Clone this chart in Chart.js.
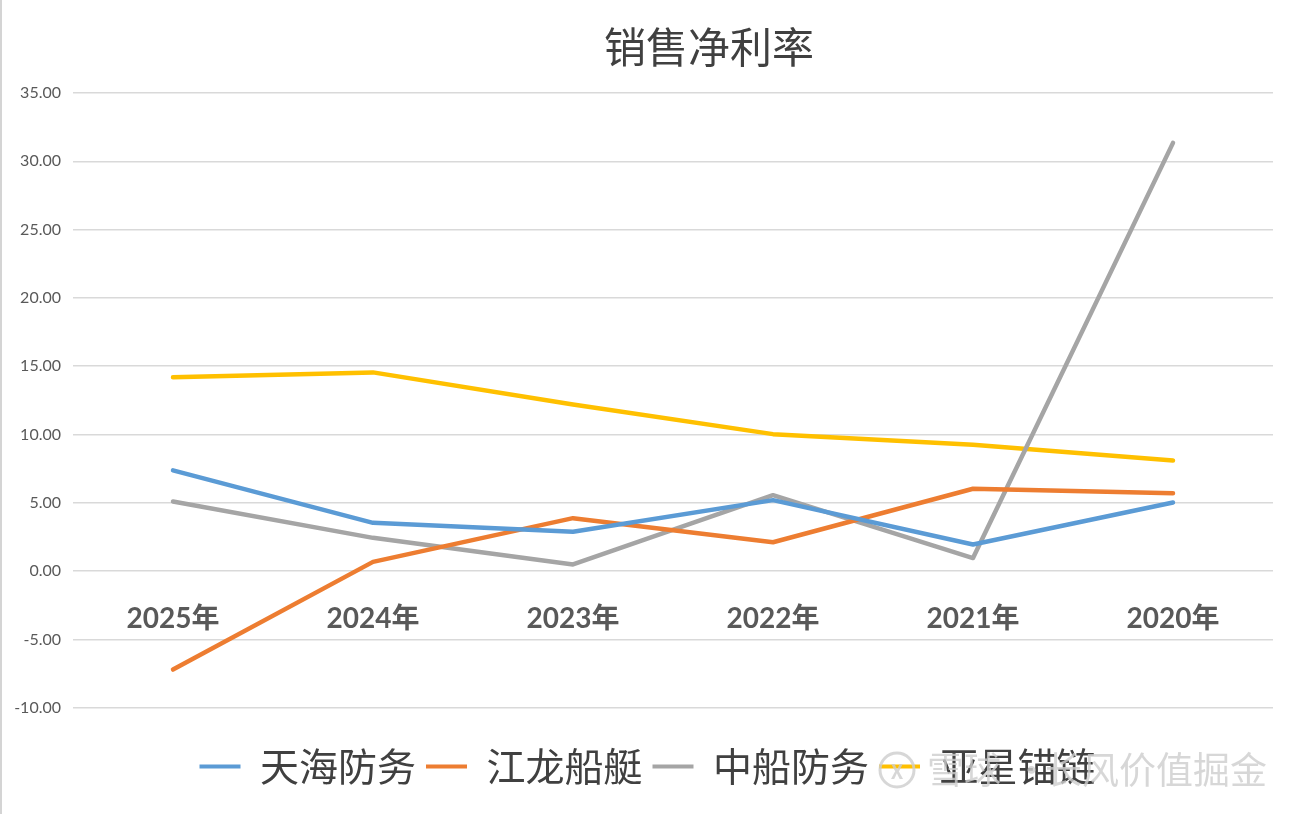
<!DOCTYPE html>
<html lang="zh">
<head>
    <meta charset="UTF-8">
    <title>销售净利率</title>
    <script src="https://cdn.jsdelivr.net/npm/chart.js"></script>
    <style>
        html, body { margin: 0; padding: 0; background: #fff; }
        .wrap { position: relative; width: 1295px; height: 814px; }
        .edge { position: absolute; left: 0; top: 0; width: 2px; height: 814px; background: #d4d4d4; }
    </style>
</head>
<body>
    <div class="wrap">
        <canvas id="chart" width="1295" height="814"></canvas>
        <div class="edge"></div>
    </div>

    <script>
        // data
        const years = ['2025年', '2024年', '2023年', '2022年', '2021年', '2020年'];
        const tianhai = [7.38, 3.54, 2.88, 5.20, 1.95, 5.03];
        const jianglong = [-7.20, 0.68, 3.88, 2.12, 6.03, 5.71];
        const zhongchuan = [5.10, 2.44, 0.49, 5.56, 0.96, 31.35];
        const yaxing = [14.20, 14.55, 12.20, 10.03, 9.25, 8.10];
        const names = ['天海防务', '江龙船艇', '中船防务', '亚星锚链'];
        const colors = ['#5B9BD5', '#ED7D31', '#A5A5A5', '#FFC000'];

        const cjk = '"Noto Sans CJK SC", sans-serif';

        // title + watermark drawn by hand
        const extras = {
            id: 'extras',
            afterDraw(chart) {
                const ctx = chart.ctx;
                ctx.save();
                ctx.fillStyle = '#404040';
                ctx.font = '42px ' + cjk;
                ctx.textAlign = 'center';
                ctx.textBaseline = 'middle';
                ctx.fillText('销售净利率', 709, 47);

                // watermark
                ctx.fillStyle = 'rgba(205,205,205,0.8)';
                ctx.strokeStyle = 'rgba(205,205,205,0.8)';
                ctx.lineWidth = 3;
                ctx.beginPath();
                ctx.arc(897, 770, 17, 0, Math.PI * 2);
                ctx.stroke();
                ctx.font = 'bold 20px ' + cjk;
                ctx.fillText('X', 897, 771);
                ctx.font = '37px ' + cjk;
                ctx.textAlign = 'left';
                ctx.fillText('雪球', 927, 770);
                ctx.fillText('·', 1013, 770);
                ctx.fillText('长风价值掘金', 1045, 770);
                ctx.restore();
            }
        };

        const datasets = [tianhai, jianglong, zhongchuan, yaxing].map((vals, i) => ({
            label: names[i],
            data: vals,
            borderColor: colors[i],
            backgroundColor: colors[i],
            borderWidth: 4.5,
            pointRadius: 0,
            tension: 0,
            borderJoinStyle: 'round',
            borderCapStyle: 'round'
        }));

        new Chart(document.getElementById('chart'), {
            type: 'line',
            data: { labels: years, datasets: datasets },
            options: {
                responsive: false,
                animation: false,
                layout: { padding: { top: 93, right: 0, bottom: 18, left: 0 } },
                scales: {
                    x: {
                        type: 'category',
                        offset: true,
                        position: { y: 0 },
                        grid: { display: false },
                        border: { display: false },
                        ticks: {
                            padding: 23,
                            color: '#595959',
                            font: { family: 'Lato, ' + cjk, size: 28, weight: 'bold' }
                        }
                    },
                    y: {
                        min: -10,
                        max: 35,
                        afterFit: s => { s.width = 73; },
                        border: { display: false },
                        grid: { color: '#d9d9d9', lineWidth: 1.5, drawTicks: false },
                        ticks: {
                            stepSize: 5,
                            padding: 12,
                            color: '#595959',
                            font: { family: 'Lato, sans-serif', size: 16 },
                            callback: v => Number(v).toFixed(2)
                        }
                    },
                    // empty strip on the right so the legend centres on the page
                    yRight: {
                        position: 'right',
                        min: -10,
                        max: 35,
                        afterFit: s => { s.width = 22; },
                        grid: { display: false },
                        border: { display: false },
                        ticks: { display: false }
                    }
                },
                plugins: {
                    tooltip: { enabled: false },
                    legend: {
                        position: 'bottom',
                        title: { display: true, text: '', font: { size: 1 }, padding: { top: 28, bottom: 0 } },
                        labels: {
                            boxWidth: 41,
                            boxHeight: 4,
                            padding: 10,
                            color: '#404040',
                            font: { family: cjk, size: 39 },
                            generateLabels(chart) {
                                return Chart.defaults.plugins.legend.labels.generateLabels(chart)
                                    .map(l => Object.assign(l, { lineWidth: 0 }));
                            }
                        }
                    }
                }
            },
            plugins: [extras]
        });
    </script>
</body>
</html>
